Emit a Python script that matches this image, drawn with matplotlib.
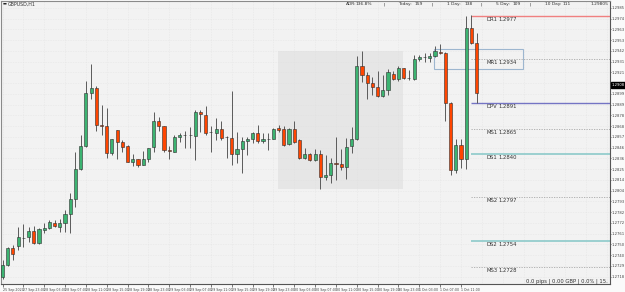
import matplotlib
matplotlib.use('Agg')
import matplotlib.pyplot as plt
import matplotlib.transforms as mtransforms
import numpy as np

# GBPUSD H1 candles
opens = [1.27181, 1.27300, 1.27468, 1.27488, 1.27568, 1.27577, 1.27637, 1.27518, 1.27647, 1.27666,
         1.27716, 1.27676, 1.27716, 1.27805, 1.27954, 1.28251, 1.28479, 1.29004, 1.29054, 1.28687,
         1.28677, 1.28410, 1.28638, 1.28519, 1.28479, 1.28321, 1.28350, 1.28291, 1.28350, 1.28469,
         1.28727, 1.28677, 1.28440, 1.28420, 1.28568, 1.28588, 1.28588, 1.28578, 1.28816, 1.28786,
         1.28618, 1.28608, 1.28648, 1.28568, 1.28558, 1.28400, 1.28450, 1.28529, 1.28549, 1.28608,
         1.28529, 1.28549, 1.28549, 1.28658, 1.28648, 1.28499, 1.28648, 1.28539, 1.28360, 1.28400,
         1.28340, 1.28400, 1.28172, 1.28192, 1.28311, 1.28301, 1.28271, 1.28479, 1.28549, 1.29272,
         1.29183, 1.29103, 1.29064, 1.28975, 1.29034, 1.29193, 1.29143, 1.29252, 1.29153, 1.29143,
         1.29341, 1.29361, 1.29351, 1.29371, 1.29411, 1.29401, 1.28905, 1.28241, 1.28489, 1.28350,
         1.29649, 1.29500]
highs = [1.27350, 1.27478, 1.27498, 1.27676, 1.27706, 1.27676, 1.27686, 1.27666, 1.27716, 1.27746,
         1.27746, 1.27756, 1.27845, 1.28013, 1.28420, 1.28588, 1.29123, 1.29292, 1.29074, 1.28885,
         1.28856, 1.28549, 1.28638, 1.28539, 1.28489, 1.28400, 1.28350, 1.28430, 1.28459, 1.28816,
         1.28767, 1.28677, 1.28479, 1.28588, 1.28608, 1.28628, 1.28667, 1.28836, 1.28836, 1.28875,
         1.28677, 1.28757, 1.28727, 1.28578, 1.29024, 1.28618, 1.28568, 1.28568, 1.28618, 1.28687,
         1.28608, 1.28608, 1.28658, 1.28687, 1.28677, 1.28658, 1.28727, 1.28549, 1.28459, 1.28410,
         1.28450, 1.28440, 1.28390, 1.28360, 1.28568, 1.28450, 1.28558, 1.28667, 1.29371, 1.29421,
         1.29212, 1.29163, 1.29222, 1.29183, 1.29242, 1.29222, 1.29272, 1.29252, 1.29232, 1.29381,
         1.29381, 1.29401, 1.29401, 1.29470, 1.29490, 1.29411, 1.28915, 1.28549, 1.28549, 1.29767,
         1.29777, 1.29599]
lows = [1.27161, 1.27290, 1.27350, 1.27448, 1.27478, 1.27528, 1.27508, 1.27508, 1.27617, 1.27657,
        1.27676, 1.27627, 1.27627, 1.27617, 1.27875, 1.28241, 1.28469, 1.28945, 1.28628, 1.28588,
        1.28360, 1.28390, 1.28350, 1.28420, 1.28321, 1.28281, 1.28271, 1.28291, 1.28321, 1.28420,
        1.28628, 1.28420, 1.28350, 1.28420, 1.28519, 1.28459, 1.28459, 1.28340, 1.28618, 1.28588,
        1.28420, 1.28539, 1.28539, 1.28360, 1.28291, 1.28311, 1.28212, 1.28390, 1.28509, 1.28509,
        1.28509, 1.28440, 1.28549, 1.28618, 1.28479, 1.28489, 1.28509, 1.28350, 1.28350, 1.28330,
        1.28330, 1.28053, 1.28142, 1.28112, 1.28142, 1.28241, 1.28152, 1.28410, 1.28539, 1.29113,
        1.28945, 1.28985, 1.28965, 1.28965, 1.28985, 1.29133, 1.29123, 1.29143, 1.29133, 1.29133,
        1.29321, 1.29312, 1.29312, 1.29361, 1.29391, 1.28727, 1.28192, 1.28212, 1.28261, 1.28251,
        1.29490, 1.28905]
closes = [1.27300, 1.27468, 1.27409, 1.27577, 1.27570, 1.27637, 1.27518, 1.27657, 1.27666, 1.27726,
          1.27686, 1.27716, 1.27805, 1.27954, 1.28251, 1.28479, 1.29004, 1.29054, 1.28687, 1.28677,
          1.28410, 1.28549, 1.28519, 1.28469, 1.28321, 1.28350, 1.28291, 1.28350, 1.28459, 1.28727,
          1.28677, 1.28440, 1.28430, 1.28568, 1.28588, 1.28586, 1.28590, 1.28816, 1.28796, 1.28608,
          1.28615, 1.28648, 1.28558, 1.28565, 1.28400, 1.28450, 1.28529, 1.28549, 1.28608, 1.28529,
          1.28549, 1.28545, 1.28648, 1.28638, 1.28489, 1.28648, 1.28519, 1.28360, 1.28400, 1.28340,
          1.28400, 1.28172, 1.28192, 1.28311, 1.28301, 1.28271, 1.28469, 1.28549, 1.29272, 1.29183,
          1.29103, 1.29064, 1.28975, 1.29034, 1.29212, 1.29143, 1.29252, 1.29153, 1.29150, 1.29341,
          1.29361, 1.29358, 1.29371, 1.29421, 1.29401, 1.28905, 1.28241, 1.28489, 1.28350, 1.29649,
          1.29500, 1.29004]

time_labels = ['25 Sep 2020', '27 Sep 23:00', '28 Sep 03:00', '28 Sep 07:00', '28 Sep 11:00',
               '28 Sep 15:00', '28 Sep 19:00', '28 Sep 23:00', '29 Sep 03:00', '29 Sep 07:00',
               '29 Sep 11:00', '29 Sep 15:00', '29 Sep 19:00', '29 Sep 23:00', '30 Sep 03:00',
               '30 Sep 07:00', '30 Sep 11:00', '30 Sep 15:00', '30 Sep 19:00', '30 Sep 23:00',
               '1 Oct 03:00', '1 Oct 07:00', '1 Oct 11:00']

pivot_names = ['DR1', 'MR1', 'DPV', 'MS1', 'DS1', 'MS2', 'DS2', 'MS3']
pivot_values = [1.2977, 1.2934, 1.2891, 1.2865, 1.2840, 1.2797, 1.2754, 1.2728]
pivot_start = 89.9

adr_items = ['ADR:', '136.8%', '|', 'Today:', '159', '|', '1 Day:', '138', '|',
             '5 Day:', '109', '|', '10 Day:', '111']
bid_price = 1.29084

plt.rcParams['font.family'] = ['Liberation Sans Narrow', 'DejaVu Sans']

W, H = 625, 292
fig = plt.figure(figsize=(W / 100, H / 100), dpi=100, facecolor='#fafafa')
ax = fig.add_axes([1 / W, 8 / H, 609 / W, 283 / H])
ax.set_facecolor('#f2f2f2')

n = len(opens)
ymax = 1.29916
ymin = 1.27112
ax.set_xlim(-0.29, 116.6)
ax.set_ylim(ymin, ymax)

# shaded session box and the outlined box
ax.add_patch(plt.Rectangle((52.8, 1.28053), 24.0, 1.29421 - 1.28053,
                           facecolor='#e6e6e6', edgecolor='none', zorder=0.5))
ax.add_patch(plt.Rectangle((82.8, 1.29245), 17.1, 1.29437 - 1.29245,
                           facecolor='none', edgecolor='#9db6cf', lw=0.8, zorder=1))

# grid
yticks = np.arange(1.29847, ymin, -0.001065)
for yt in yticks:
    ax.axhline(yt, color='#dedede', lw=0.4, ls=(0, (1, 2)), zorder=0.6)
for xt in range(0, 117, 4):
    ax.axvline(xt, color='#dedede', lw=0.4, ls=(0, (1, 2)), zorder=0.6)

# candles
for i in range(n):
    o, h, l, c = opens[i], highs[i], lows[i], closes[i]
    ax.vlines(i, l, h, color='#5a5a5a', lw=0.7, zorder=2)
    if c > o:
        col = '#3cb371'
    elif c < o:
        col = '#ff4500'
    else:
        col = '#444444'
    body = max(abs(c - o), 0.00003)
    ax.bar(i, body, bottom=min(o, c), width=0.6, color=col,
           edgecolor='#2e2e2e', lw=0.4, zorder=3)

# pivot levels
styles = {'DR1': ('#f08080', '-', 1.0), 'DPV': ('#7474c4', '-', 1.0),
          'DS1': ('#8ccaca', '-', 1.2), 'DS2': ('#8ccaca', '-', 1.2)}
for name, val in zip(pivot_names, pivot_values):
    col, ls, lw = styles.get(name, ('#a8a8a8', (0, (1.5, 1.5)), 0.6))
    ax.hlines(val, pivot_start, 116.6, color=col, ls=ls, lw=lw, zorder=1.5)
    ax.text(pivot_start + 3.0, val - 0.00035, name, fontsize=3.8, va='center',
            color='#333333', zorder=4)
    ax.text(pivot_start + 5.3, val - 0.00035, '%.4f' % val, fontsize=3.8,
            va='center', color='#333333', zorder=4)

# axes style
for s in ['left', 'top']:
    ax.spines[s].set_color('#8a8a8a')
    ax.spines[s].set_linewidth(0.8)
for s in ['right', 'bottom']:
    ax.spines[s].set_color('#555555')
    ax.spines[s].set_linewidth(0.8)
ax.yaxis.tick_right()
ax.set_yticks(yticks)
# the tick under the current price tag is covered by the tag
ylabels = ['' if abs(v - bid_price) < 0.0004 else '%.4f' % v for v in yticks]
ax.set_yticklabels(ylabels)
ax.set_xticks(range(0, 4 * len(time_labels), 4))
ax.set_xticklabels(time_labels, ha='left')
ax.tick_params(axis='x', labelsize=2.3, length=2, width=0.5, pad=1,
               colors='#444444')
ax.tick_params(axis='y', labelsize=2.7, length=1, width=0.5, pad=0.4,
               colors='#444444')

# current price tag
tr = mtransforms.blended_transform_factory(ax.transAxes, ax.transData)
ax.text(1.003, bid_price, '%.4f' % bid_price, transform=tr, fontsize=2.7,
        color='white', va='center', ha='left', clip_on=False, zorder=6,
        bbox=dict(boxstyle='square,pad=0.15', fc='black', ec='black'))

# header texts
fig.text(3 / W, 1 - 4 / H, '\u25ac', fontsize=3.0, va='center', color='#222222',
         family='DejaVu Sans')
fig.text(8 / W, 1 - 4 / H, 'GBPUSD,H1', fontsize=3.4, va='center', color='#333333')
adr_x = [346, 356, 383, 398, 415, 432, 447, 465, 481, 496, 513, 530, 545, 563]
for px, t in zip(adr_x, adr_items):
    fig.text(px / W, 1 - 4 / H, t, fontsize=3.2, va='center', color='#333333')
fig.text(609 / W, 1 - 4 / H, '1.29805', fontsize=3.2, va='center', ha='right',
         color='#333333')
fig.text(608 / W, 1 - 281 / H, '0.0 pips | 0.00 GBP | 0.0% | 15.', fontsize=3.8,
         va='center', ha='right', color='#333333')

fig.savefig('out.png', dpi=100, facecolor=fig.get_facecolor())
